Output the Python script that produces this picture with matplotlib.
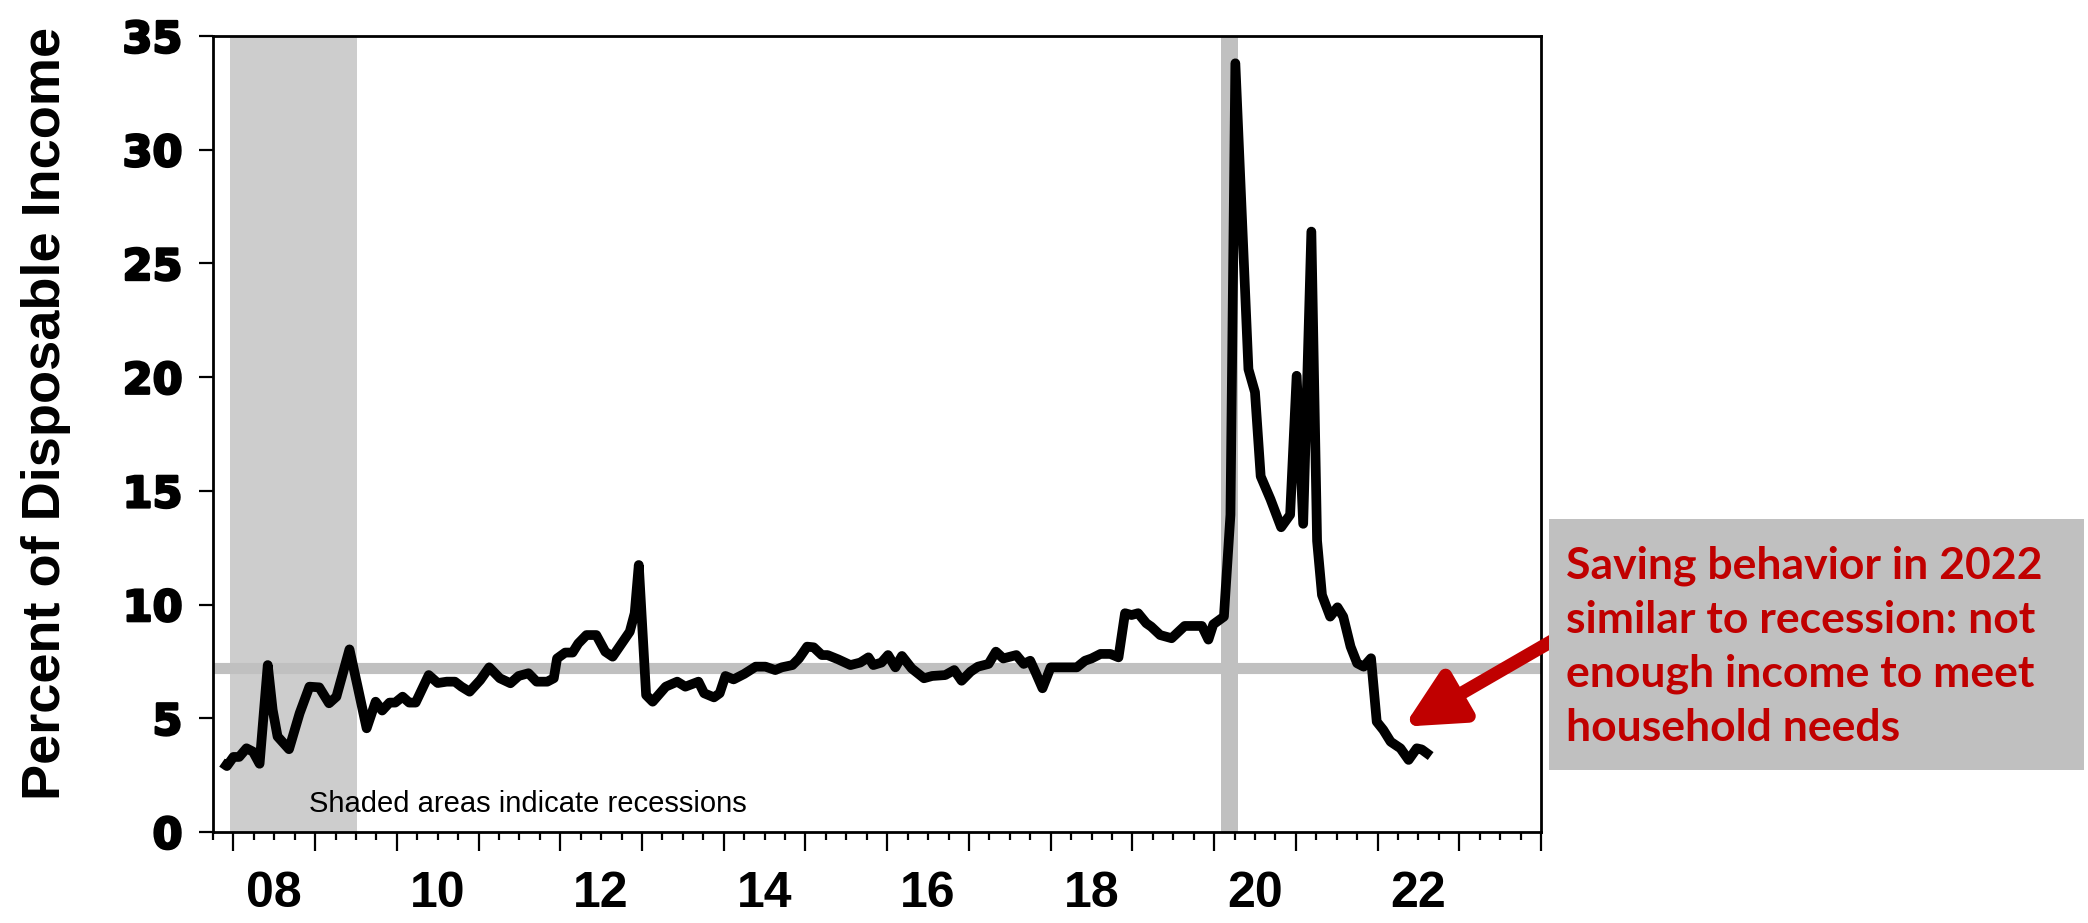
import matplotlib
matplotlib.use("Agg")
import matplotlib.pyplot as plt
import matplotlib.patheffects as pe
from matplotlib.patches import Rectangle
import numpy as np

# ---- data ----
years = [2007.86, 2007.92, 2008.00, 2008.07, 2008.16, 2008.24, 2008.32, 2008.42, 2008.48, 2008.54,
         2008.68, 2008.81, 2008.93, 2009.05, 2009.17, 2009.26, 2009.42, 2009.52, 2009.63, 2009.74,
         2009.82, 2009.91, 2009.98, 2010.07, 2010.15, 2010.23, 2010.39, 2010.50, 2010.61, 2010.71,
         2010.79, 2010.89, 2011.02, 2011.13, 2011.26, 2011.39, 2011.49, 2011.61, 2011.71, 2011.84,
         2011.92, 2011.96, 2012.06, 2012.15, 2012.22, 2012.32, 2012.44, 2012.55, 2012.64, 2012.75,
         2012.85, 2012.91, 2012.96, 2013.05, 2013.13, 2013.29, 2013.43, 2013.53, 2013.69, 2013.76,
         2013.88, 2013.95, 2014.02, 2014.12, 2014.25, 2014.39, 2014.51, 2014.63, 2014.71, 2014.84,
         2014.92, 2015.02, 2015.10, 2015.20, 2015.27, 2015.40, 2015.55, 2015.67, 2015.77, 2015.83,
         2015.93, 2016.01, 2016.10, 2016.18, 2016.30, 2016.45, 2016.55, 2016.71, 2016.82, 2016.91,
         2017.02, 2017.11, 2017.24, 2017.33, 2017.42, 2017.58, 2017.67, 2017.75, 2017.82, 2017.90,
         2018.00, 2018.18, 2018.32, 2018.42, 2018.50, 2018.61, 2018.73, 2018.83, 2018.91, 2018.99,
         2019.07, 2019.17, 2019.23, 2019.34, 2019.48, 2019.64, 2019.85, 2019.93, 2019.99, 2020.12,
         2020.20, 2020.26, 2020.42, 2020.50, 2020.57, 2020.69, 2020.82, 2020.93, 2021.01, 2021.09,
         2021.19, 2021.26, 2021.32, 2021.42, 2021.51, 2021.58, 2021.67, 2021.75, 2021.83, 2021.92,
         2021.99, 2022.07, 2022.16, 2022.28, 2022.38, 2022.48, 2022.54, 2022.65]

saving_rate = [3.05, 2.9, 3.3, 3.3, 3.68, 3.53, 3.0, 7.34, 5.37, 4.2,
               3.64, 5.22, 6.39, 6.36, 5.66, 5.95, 8.03, 6.39, 4.56, 5.73,
               5.34, 5.69, 5.69, 5.95, 5.69, 5.69, 6.9, 6.55, 6.61, 6.61,
               6.39, 6.17, 6.68, 7.24, 6.76, 6.54, 6.86, 6.98, 6.61, 6.61,
               6.76, 7.63, 7.89, 7.89, 8.29, 8.66, 8.66, 7.93, 7.71, 8.29,
               8.81, 9.62, 11.74, 6.02, 5.73, 6.39, 6.61, 6.39, 6.61, 6.1,
               5.92, 6.1, 6.86, 6.71, 6.95, 7.27, 7.27, 7.12, 7.24, 7.34,
               7.63, 8.15, 8.12, 7.78, 7.78, 7.59, 7.34, 7.45, 7.68, 7.34,
               7.45, 7.78, 7.24, 7.74, 7.19, 6.76, 6.86, 6.9, 7.12, 6.65,
               7.05, 7.27, 7.39, 7.93, 7.63, 7.78, 7.39, 7.53, 6.98, 6.32,
               7.24, 7.24, 7.24, 7.53, 7.63, 7.83, 7.83, 7.68, 9.62, 9.54,
               9.62, 9.18, 9.03, 8.66, 8.52, 9.06, 9.06, 8.46, 9.13, 9.47,
               13.95, 33.8, 20.35, 19.34, 15.64, 14.63, 13.4, 13.95, 20.06, 13.55,
               26.4, 12.8, 10.42, 9.47, 9.88, 9.47, 8.15, 7.42, 7.27, 7.64,
               4.85, 4.49, 3.97, 3.68, 3.17, 3.68, 3.63, 3.34]

average_level = 7.2
recessions = [(2007.96, 2009.51, '#cdcdcd'), (2020.08, 2020.29, '#c0c0c0')]
x_range = (2007.75, 2024.0)
y_ticks = [0, 5, 10, 15, 20, 25, 30, 35]
label_years = [2008, 2010, 2012, 2014, 2016, 2018, 2020, 2022]
x_labels = ['08', '10', '12', '14', '16', '18', '20', '22']
ylabel_text = 'Percent of Disposable Income'
note_text = 'Shaded areas indicate recessions'
callout_text = 'Saving behavior in 2022\nsimilar to recession: not\nenough income to meet\nhousehold needs'
arrow_tip = (2022.32, 4.63)

# ---- figure ----
W, H, DPI = 2088, 923, 100
fig = plt.figure(figsize=(W / DPI, H / DPI), dpi=DPI)
ax = fig.add_axes([213 / W, 1 - 832 / H, (1541 - 213) / W, (832 - 36) / H])

for x0, x1, c in recessions:
    ax.axvspan(x0, x1, color=c, lw=0, zorder=0)
ax.axhline(average_level, color='#c0c0c0', lw=8, zorder=1)
ax.plot(years, saving_rate, color='black', lw=7.0, solid_joinstyle='round',
        solid_capstyle='butt', zorder=3)

ax.set_xlim(*x_range)
ax.set_ylim(0, 35)

for s in ax.spines.values():
    s.set_linewidth(2.0)
    s.set_color('black')

ax.set_yticks(y_ticks)
ax.set_yticklabels([str(t) for t in y_ticks], fontfamily='DejaVu Sans',
                   fontweight='bold', fontsize=31)
for lbl in ax.get_yticklabels():
    lbl.set_path_effects([pe.withStroke(linewidth=1.8, foreground='black')])
ax.tick_params(axis='y', direction='out', length=10, width=1.6, pad=12)

ax.set_xticks(np.arange(2008, 2025, 1))
ax.set_xticks(np.arange(2007.75, 2024.01, 0.25), minor=True)
ax.tick_params(axis='x', which='major', direction='out', length=14, width=1.6,
               labelbottom=False)
ax.tick_params(axis='x', which='minor', direction='out', length=6, width=1.6)

sec = ax.secondary_xaxis('bottom')
sec.set_xticks([y + 0.5 for y in label_years])
sec.set_xticklabels(x_labels, fontfamily='Liberation Sans', fontweight='bold',
                    fontsize=36)
sec.tick_params(axis='x', length=0, pad=28)
sec.spines['bottom'].set_visible(False)

ax.set_ylabel(ylabel_text, fontfamily='Liberation Sans', fontweight='bold',
              fontsize=39)
ax.yaxis.set_label_coords(-0.107, 0.526)

ax.text(2008.92, 0.88, note_text, fontfamily='Liberation Sans', fontsize=21,
        ha='left', va='baseline', zorder=4)

# callout box
box = Rectangle((1549 / W, 1 - 770 / H), 535 / W, 251 / H, transform=fig.transFigure,
                facecolor='#c0c0c0', edgecolor='none', zorder=5)
fig.patches.append(box)
fig.text(1566 / W, 1 - 647 / H, callout_text, color='#c00000', fontfamily='Lato',
         fontweight='bold', fontsize=32, ha='left', va='center', linespacing=1.42,
         zorder=6)

ax.annotate('', xy=arrow_tip, xycoords='data',
            xytext=(1552 / W, 1 - 641 / H), textcoords='figure fraction',
            arrowprops=dict(arrowstyle='-|>,head_length=3.4,head_width=1.7',
                            color='#c00000', lw=9.5, shrinkA=0, shrinkB=0),
            annotation_clip=False, zorder=4)

fig.savefig('out.png', dpi=DPI)
